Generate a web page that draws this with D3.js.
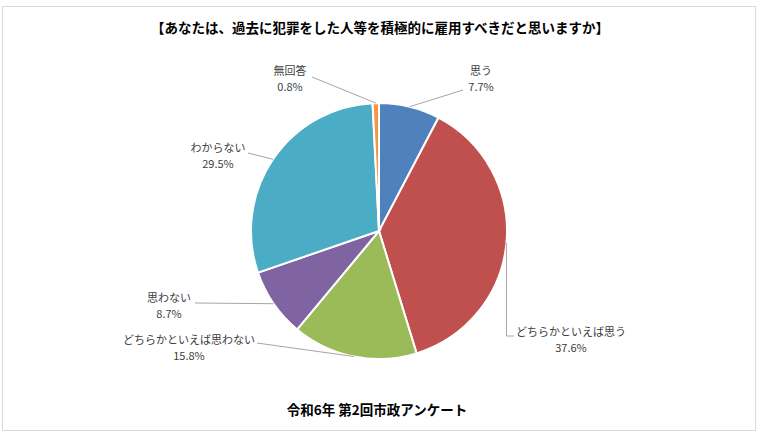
<!DOCTYPE html>
<html>
<head>
<meta charset="utf-8">
<script src="https://cdn.jsdelivr.net/npm/d3@7"></script>
<style>
  body { margin: 0; background: #fff; }
  text { font-family: "Noto Sans CJK JP", "Noto Sans", sans-serif; fill: #404040; }
</style>
</head>
<body>
<div id="chart"></div>
<script>
// data
const categories = ["思う", "どちらかといえば思う", "どちらかといえば思わない", "思わない", "わからない", "無回答"];
const percents = [7.7, 37.6, 15.8, 8.7, 29.5, 0.8];
const colors = ["#4f81bd", "#c0504d", "#9bbb59", "#8064a2", "#4bacc6", "#f79646"];

const width = 761, height = 434;
const cx = 379, cy = 231, radius = 128;

// label text centres and leader end points, relative to pie centre
const labelLayout = [
  { tx: 102, ty: -160, ex: 84, ey: -141 },
  { tx: 192, ty: 101, ex: 135, ey: 105, elbow: true },
  { tx: -190, ty: 109, ex: -122, ey: 112 },
  { tx: -210, ty: 67, ex: -184, ey: 72 },
  { tx: -161, ty: -83, ex: -131, ey: -78 },
  { tx: -89, ty: -160, ex: -67, ey: -154 }
];

const svg = d3.select("#chart")
  .append("svg")
  .attr("width", width)
  .attr("height", height);

// frame
svg.append("rect")
  .attr("x", 2.5).attr("y", 6.5)
  .attr("width", 753).attr("height", 424)
  .attr("fill", "#fff")
  .attr("stroke", "#d9d9d9")
  .attr("stroke-width", 1);

// title
svg.append("text")
  .attr("x", 380)
  .attr("y", 33)
  .attr("text-anchor", "middle")
  .style("font-size", "13.5px")
  .style("font-weight", "bold")
  .style("fill", "#000")
  .text("【あなたは、過去に犯罪をした人等を積極的に雇用すべきだと思いますか】");

const data = categories.map((c, i) => ({ name: c, value: percents[i], color: colors[i] }));

const pie = d3.pie().sort(null).value(d => d.value);
const arc = d3.arc().innerRadius(0).outerRadius(radius);
const arcs = pie(data);

const g = svg.append("g")
  .attr("transform", `translate(${cx}, ${cy})`);

g.selectAll("path.slice")
  .data(arcs)
  .join("path")
  .attr("class", "slice")
  .attr("d", arc)
  .attr("fill", d => d.data.color)
  .attr("stroke", "#fff")
  .attr("stroke-width", 2);

// leader lines
arcs.forEach((d, i) => {
  const mid = (d.startAngle + d.endAngle) / 2;
  const sx = radius * Math.sin(mid), sy = -radius * Math.cos(mid);
  const L = labelLayout[i];
  let pts;
  if (L.elbow) {
    pts = [[sx, sy], [sx, L.ey], [L.ex, L.ey]];
  } else {
    pts = [[sx, sy], [L.ex, L.ey]];
  }
  g.append("path")
    .attr("d", d3.line()(pts))
    .attr("fill", "none")
    .attr("stroke", "#a6a6a6")
    .attr("stroke-width", 1);

  const t = g.append("text")
    .attr("text-anchor", "middle")
    .style("font-size", "11px");
  t.append("tspan")
    .attr("x", L.tx).attr("y", L.ty + 4)
    .text(d.data.name);
  t.append("tspan")
    .attr("x", L.tx).attr("y", L.ty + 20)
    .text(d.data.value.toFixed(1) + "%");
});

// footer
svg.append("text")
  .attr("x", 377)
  .attr("y", 415)
  .attr("text-anchor", "middle")
  .style("font-size", "13.5px")
  .style("font-weight", "bold")
  .style("fill", "#000")
  .text("令和6年 第2回市政アンケート");
</script>
</body>
</html>
